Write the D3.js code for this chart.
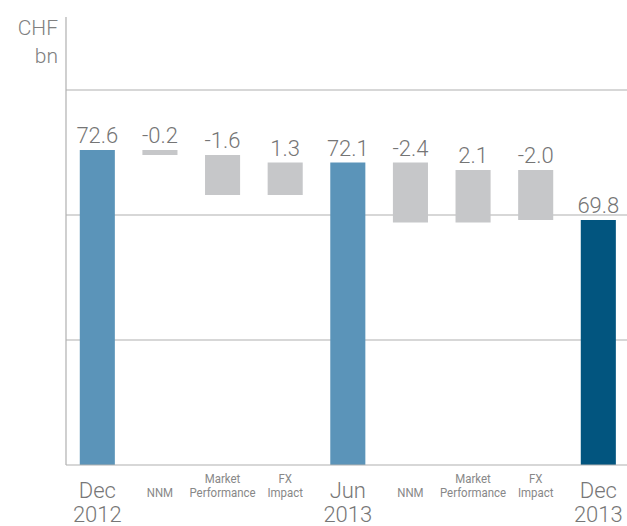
<!DOCTYPE html>
<html>
<head>
<meta charset="utf-8">
<script src="https://cdn.jsdelivr.net/npm/d3@7/dist/d3.min.js"></script>
<style>
  html, body { margin: 0; padding: 0; background: #fff; }
  svg { display: block; font-family: Roboto, "Liberation Sans", sans-serif; }
</style>
</head>
<body>
<svg id="chart" width="627" height="526"></svg>
<script>
// Asset bridge, CHF bn
const categories = ["Dec 2012", "NNM", "Market Performance", "FX Impact", "Jun 2013", "NNM", "Market Performance", "FX Impact", "Dec 2013"];
const steps = [72.6, -0.2, -1.6, 1.3, 72.1, -2.4, 2.1, -2.0, 69.8];
const kinds = ["total", "delta", "delta", "delta", "total", "delta", "delta", "delta", "final"];
const labelLines = [["Dec", "2012"], ["NNM"], ["Market", "Performance"], ["FX", "Impact"], ["Jun", "2013"], ["NNM"], ["Market", "Performance"], ["FX", "Impact"], ["Dec", "2013"]];
const gridValues = [65, 70, 75];
const axisMin = 60, axisMax = 77.2;

const svg = d3.select("#chart");
const W = 627;
const left = 66, baseY = 465, topY = 35;

const x = d3.scaleBand()
  .domain(d3.range(categories.length))
  .range([left, left + 9 * 62.625])
  .paddingInner(0.44)
  .paddingOuter(0.22);

const y = d3.scaleLinear().domain([axisMin, axisMax]).range([baseY, topY]);

// running level for floating bars
let level = 0;
const bars = steps.map((v, i) => {
  let lo, hi;
  if (kinds[i] === "delta") {
    const next = level + v;
    lo = Math.min(level, next); hi = Math.max(level, next);
    level = next;
  } else {
    lo = axisMin; hi = v; level = v;
  }
  return { i, v, lo, hi, kind: kinds[i] };
});

const colors = { total: "#5b94b9", delta: "#c6c7c9", final: "#02557f" };

// gridlines
svg.append("g").selectAll("line").data(gridValues).join("line")
  .attr("x1", left).attr("x2", W)
  .attr("y1", d => y(d)).attr("y2", d => y(d))
  .attr("stroke", "#b0b0b0").attr("stroke-width", 1.2);

// bars
svg.append("g").selectAll("rect").data(bars).join("rect")
  .attr("x", d => x(d.i))
  .attr("width", x.bandwidth())
  .attr("y", d => y(d.hi))
  .attr("height", d => y(d.lo) - y(d.hi))
  .attr("fill", d => colors[d.kind]);

// baseline and vertical axis
svg.append("line").attr("x1", left).attr("x2", W).attr("y1", baseY).attr("y2", baseY)
  .attr("stroke", "#b0b0b0").attr("stroke-width", 1.2);
svg.append("line").attr("x1", left).attr("x2", left).attr("y1", 17).attr("y2", baseY)
  .attr("stroke", "#b0b0b0").attr("stroke-width", 1.2);

// value labels
svg.append("g").selectAll("text").data(bars).join("text")
  .attr("x", d => x(d.i) + x.bandwidth() / 2)
  .attr("y", d => y(d.hi) - 7)
  .attr("text-anchor", "middle")
  .attr("font-size", 22).attr("font-weight", 300)
  .attr("fill", "#757575")
  .text(d => d.v.toFixed(1));

// unit label
const unit = svg.append("text").attr("text-anchor", "end").attr("fill", "#808080")
  .attr("font-size", 21).attr("font-weight", 300);
unit.append("tspan").attr("x", 58).attr("y", 35).text("CHF");
unit.append("tspan").attr("x", 58).attr("y", 63).text("bn");

// category labels
const catG = svg.append("g");
labelLines.forEach((lines, i) => {
  const cx = x(i) + x.bandwidth() / 2;
  const big = kinds[i] !== "delta";
  if (big) {
    const t = catG.append("text").attr("text-anchor", "middle").attr("fill", "#777")
      .attr("font-size", 22).attr("font-weight", 300);
    t.append("tspan").attr("x", cx).attr("y", 498).text(lines[0]);
    t.append("tspan").attr("x", cx).attr("y", 522).text(lines[1]);
  } else {
    const ys = lines.length === 1 ? [497] : [483, 497];
    lines.forEach((s, k) => {
      const t = catG.append("text").attr("text-anchor", "middle").attr("fill", "#888")
        .attr("font-size", 13).attr("x", cx).attr("y", ys[k]).text(s);
      // narrow the small labels so neighbours do not collide
      const w = t.node().getComputedTextLength();
      t.attr("textLength", w * 0.88).attr("lengthAdjust", "spacingAndGlyphs");
    });
  }
});
</script>
</body>
</html>
